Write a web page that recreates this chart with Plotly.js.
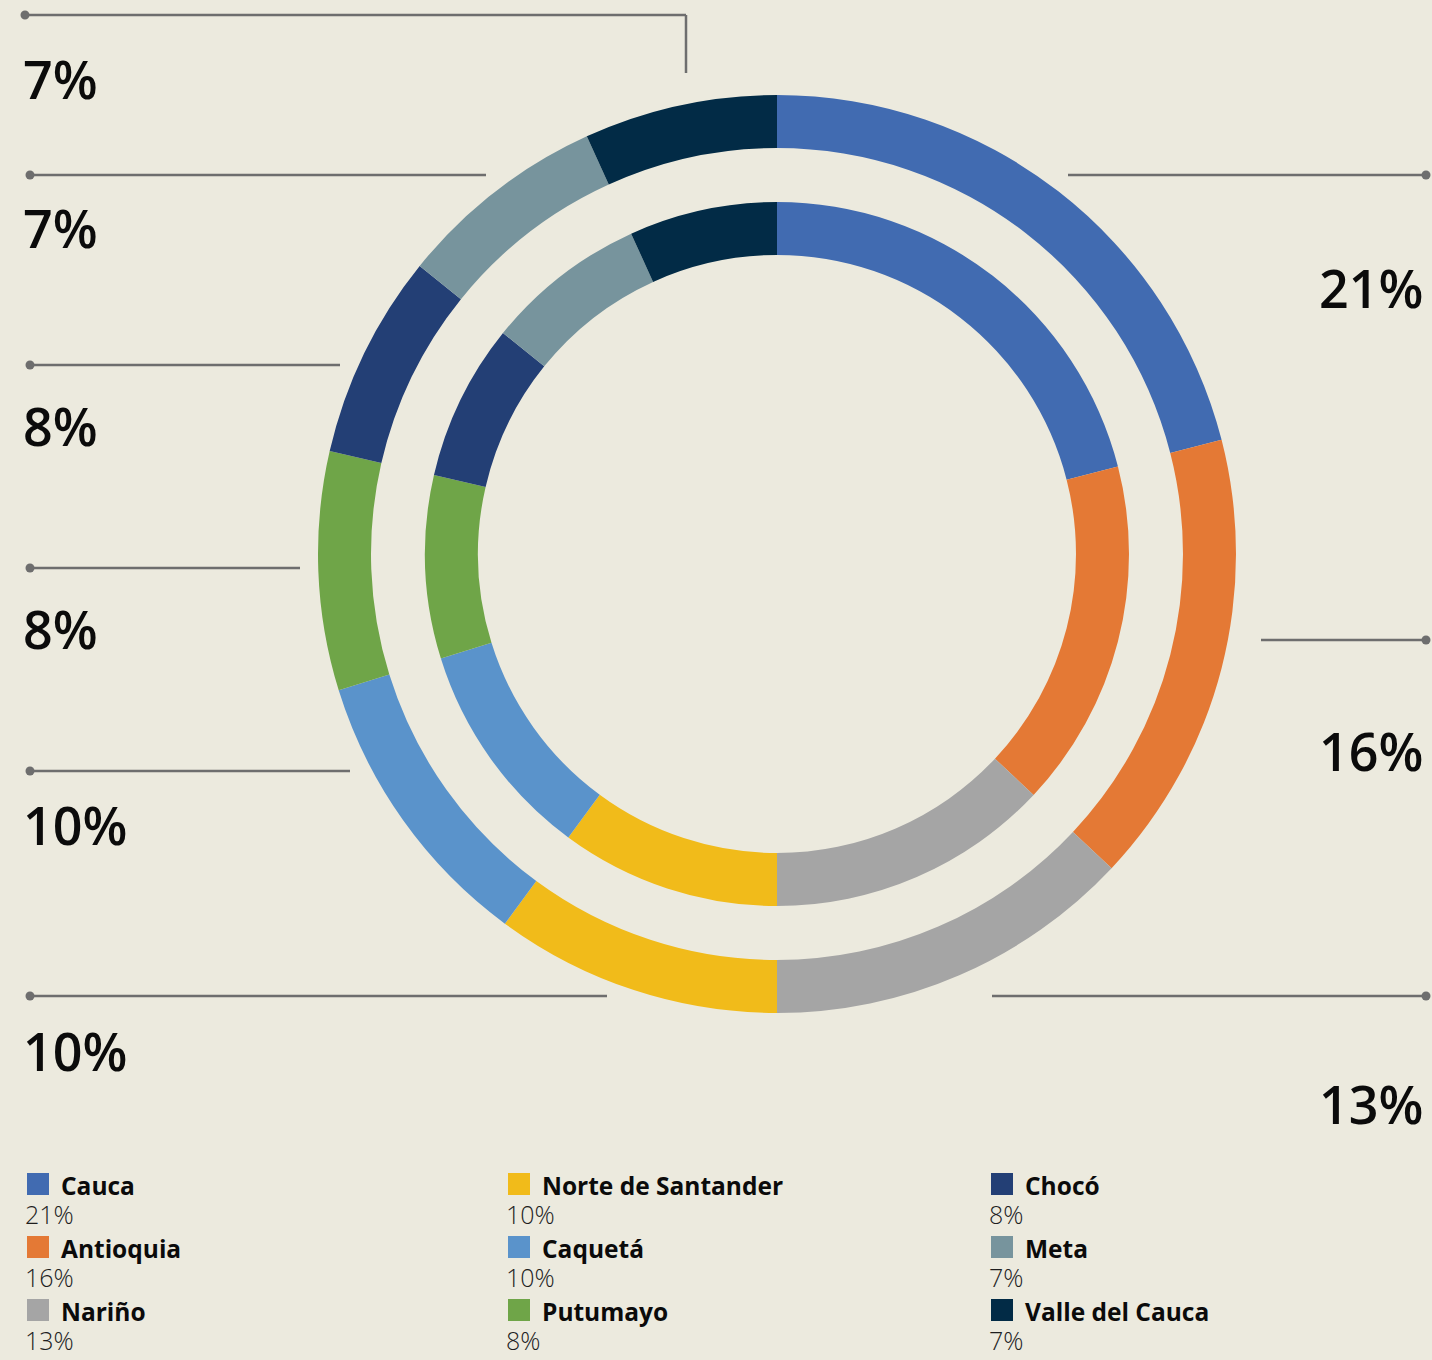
<!DOCTYPE html>
<html>
<head>
<meta charset="utf-8">
<script src="https://cdn.plot.ly/plotly-3.0.1.min.js"></script>
<style>
  html, body { margin: 0; padding: 0; background: #ECEADE; }
  #chart { width: 1432px; height: 1360px; }
</style>
</head>
<body>
<div id="chart"></div>
<script>
// ---- data ----
const regions = ['Cauca', 'Antioquia', 'Nariño', 'Norte de Santander', 'Caquetá', 'Putumayo', 'Chocó', 'Meta', 'Valle del Cauca'];
// shares as printed in labels / legend
const shareLabels = [21, 16, 13, 10, 10, 8, 8, 7, 7];
// slice sizes
const ringValues = [21, 16, 13, 10.1, 10.1, 8.4, 7.2, 7.4, 6.8];
const colors = ['#416BB1', '#E47935', '#A5A5A5', '#F1BB1A', '#5A93CB', '#6FA548', '#233F75', '#77949D', '#022B46'];

// ---- layout helpers (pixels -> paper) ----
const W = 1432, H = 1360;
const px = x => x / W;
const py = y => 1 - y / H;

// callout geometry (pixel positions) keyed by region index
const callouts = [
  { idx: 8, side: 'left',  lineY: 15,  x0: 25,  x1: 686, elbowTo: 73, textY: 78 },
  { idx: 7, side: 'left',  lineY: 175, x0: 30,  x1: 486, textY: 228 },
  { idx: 6, side: 'left',  lineY: 365, x0: 30,  x1: 340, textY: 425 },
  { idx: 5, side: 'left',  lineY: 568, x0: 30,  x1: 300, textY: 628 },
  { idx: 4, side: 'left',  lineY: 771, x0: 30,  x1: 350, textY: 825 },
  { idx: 3, side: 'left',  lineY: 996, x0: 30,  x1: 607, textY: 1050 },
  { idx: 0, side: 'right', lineY: 175, x0: 1068, x1: 1426, textY: 287 },
  { idx: 1, side: 'right', lineY: 640, x0: 1261, x1: 1426, textY: 750 },
  { idx: 2, side: 'right', lineY: 996, x0: 992,  x1: 1426, textY: 1103 }
];

const lineColor = '#6E6E6E';
const shapes = [];
const annotations = [];

callouts.forEach(c => {
  shapes.push({ type: 'line', xref: 'paper', yref: 'paper',
    x0: px(c.x0), x1: px(c.x1), y0: py(c.lineY), y1: py(c.lineY),
    line: { color: lineColor, width: 2.5 } });
  if (c.elbowTo) {
    shapes.push({ type: 'line', xref: 'paper', yref: 'paper',
      x0: px(c.x1), x1: px(c.x1), y0: py(c.lineY), y1: py(c.elbowTo),
      line: { color: lineColor, width: 2.5 } });
  }
  const dx = c.side === 'left' ? c.x0 : c.x1;
  const r = 4.5;
  shapes.push({ type: 'circle', xref: 'paper', yref: 'paper',
    x0: px(dx - r), x1: px(dx + r), y0: py(c.lineY + r), y1: py(c.lineY - r),
    fillcolor: lineColor, line: { width: 0 } });
  annotations.push({
    xref: 'paper', yref: 'paper',
    x: c.side === 'left' ? px(21) : px(1425),
    xanchor: c.side === 'left' ? 'left' : 'right',
    y: py(c.textY), yanchor: 'middle',
    text: shareLabels[c.idx] + '%', showarrow: false,
    font: { family: 'Open Sans, sans-serif', size: 52, color: '#0B0B0B', weight: 600 }
  });
});

// custom legend: 3 columns, 3 rows
const legCols = [27, 508, 991];
const legRow0 = 1184, legStep = 63;
regions.forEach((name, i) => {
  const col = Math.floor(i / 3), row = i % 3;
  const x = legCols[col];
  const yc = legRow0 + row * legStep;
  shapes.push({ type: 'rect', xref: 'paper', yref: 'paper',
    x0: px(x), x1: px(x + 22), y0: py(yc + 11), y1: py(yc - 11),
    fillcolor: colors[i], line: { width: 0 } });
  annotations.push({ xref: 'paper', yref: 'paper', x: px(x + 32), y: py(yc + 1),
    xanchor: 'left', yanchor: 'middle', showarrow: false,
    text: '<b>' + name + '</b>',
    font: { family: 'Open Sans, sans-serif', size: 24.5, color: '#0B0B0B' } });
  annotations.push({ xref: 'paper', yref: 'paper', x: px(x - 3), y: py(yc + 30),
    xanchor: 'left', yanchor: 'middle', showarrow: false, borderpad: 0,
    text: shareLabels[i] + '%',
    font: { family: 'Open Sans, sans-serif', size: 25, color: '#1E1E1E', weight: 300 } });
});

const common = {
  type: 'pie', labels: regions, values: ringValues, sort: false,
  direction: 'clockwise', rotation: 0, textinfo: 'none',
  marker: { colors: colors, line: { width: 0 } },
  showlegend: false, hovertemplate: '%{label}<extra></extra>'
};

const outer = Object.assign({}, common, {
  hole: 406 / 459,
  domain: { x: [px(318), px(1236)], y: [py(1013), py(95)] }
});
const inner = Object.assign({}, common, {
  hole: 299 / 352,
  domain: { x: [px(425), px(1129)], y: [py(906), py(202)] }
});

const layout = {
  width: W, height: H,
  margin: { l: 0, r: 0, t: 0, b: 0 },
  paper_bgcolor: '#ECEADE', plot_bgcolor: '#ECEADE',
  showlegend: false,
  shapes: shapes, annotations: annotations
};

Plotly.newPlot('chart', [outer, inner], layout, { displayModeBar: false, staticPlot: true });
</script>
</body>
</html>
